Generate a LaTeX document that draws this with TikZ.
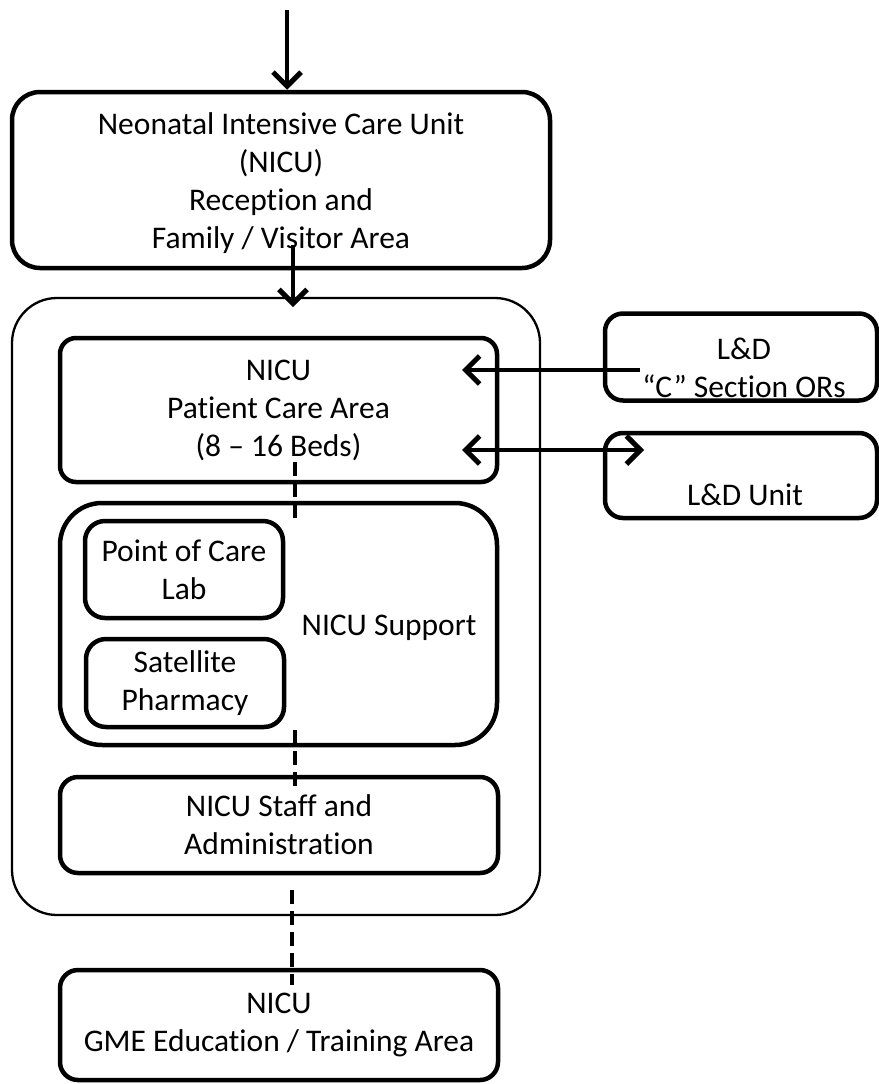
\documentclass[tikz,border=0pt]{standalone}
\usepackage{fontspec}
\setmainfont{Carlito}[Ligatures=NoCommon]
\usetikzlibrary{arrows.meta}
\begin{document}
\begin{tikzpicture}[x=1pt,y=-1pt,
  txt/.style={font=\fontsize{31.5}{38}\selectfont, align=center, inner sep=0pt},
  box/.style={txt, draw, line width=4.5pt, rounded corners=#1},
  box/.default=18pt,
  outerbox/.style={draw, line width=2.3pt, rounded corners=45pt, inner sep=0pt},
  tip/.style={},
  arr/.style={line width=4.5pt, -{Straight Barb[length=14pt,width=28pt,line width=5pt]}},
  darr/.style={line width=4.5pt, {Straight Barb[length=14pt,width=28pt,line width=5pt]}-{Straight Barb[length=14pt,width=28pt,line width=5pt]}},
  dline/.style={line width=4pt, dash pattern=on 14pt off 7pt}
]
\useasboundingbox (0,0) rectangle (878,1084);
% boxes
\node[box=28pt, minimum width=538pt, minimum height=176pt] (rec) at (281,180) {};
\node[txt] (rectxt) at (281,183)
  {Neonatal Intensive Care Unit\\(NICU)\\Reception and\\Family / Visitor Area};
\node[outerbox, minimum width=528pt, minimum height=617pt] (outer) at (276,606.5) {};
\node[box=16pt, minimum width=437pt, minimum height=144pt] (pca) at (278.5,410)
  {NICU\\Patient Care Area\\(8 – 16 Beds)};
\node[box=42pt, minimum width=437pt, minimum height=242pt] (sup) at (278.5,624) {};
\node[txt, anchor=base] (suptxt) at (389,635) {NICU Support};
\node[box=20pt, minimum width=198pt, minimum height=97pt] (poc) at (184,569.5) {Point of Care\\Lab};
\node[box=20pt, minimum width=198pt, minimum height=88pt] (sat) at (185,683) {Satellite\\Pharmacy};
\node[box=18pt, minimum width=438pt, minimum height=96pt] (staff) at (279,825) {NICU Staff and\\Administration};
\node[box=18pt, minimum width=438pt, minimum height=110pt] (gme) at (279,1025) {NICU\\GME Education / Training Area};
\node[box=18pt, minimum width=272pt, minimum height=87pt] (cs) at (741,357) {};
\node[txt] (cstxt) at (744,368) {L\&D\\“C” Section ORs};
\node[box=18pt, minimum width=272pt, minimum height=85pt] (ldu) at (741,475.5) {};
\node[txt, anchor=base] (ldutxt) at (745,505) {L\&D Unit};
% connector end points
\coordinate (top) at (287,10);
\coordinate (a2s) at (293,245);
\coordinate (a2e) at (293,307);
\coordinate (csA) at (640,370);
\coordinate (pcaA) at (462,370);
\coordinate (pcaB) at (462,450);
\coordinate (lduB) at (644,450);
\coordinate (d1a) at (295,462);
\coordinate (d1b) at (295,525);
\coordinate (d2a) at (295,730);
\coordinate (d2b) at (295,793);
\coordinate (d3a) at (292,890);
\coordinate (d3b) at (292,985);
% connectors
\draw[arr] (top) -- (rec.north -| top);
\draw[arr] (a2s) -- (a2e);
\draw[arr] (csA) -- (pcaA);
\draw[darr] (pcaB) -- (lduB);
\draw[dline] (d1a) -- (d1b);
\draw[dline] (d2a) -- (d2b);
\draw[dline] (d3a) -- (d3b);
\end{tikzpicture}
\end{document}
